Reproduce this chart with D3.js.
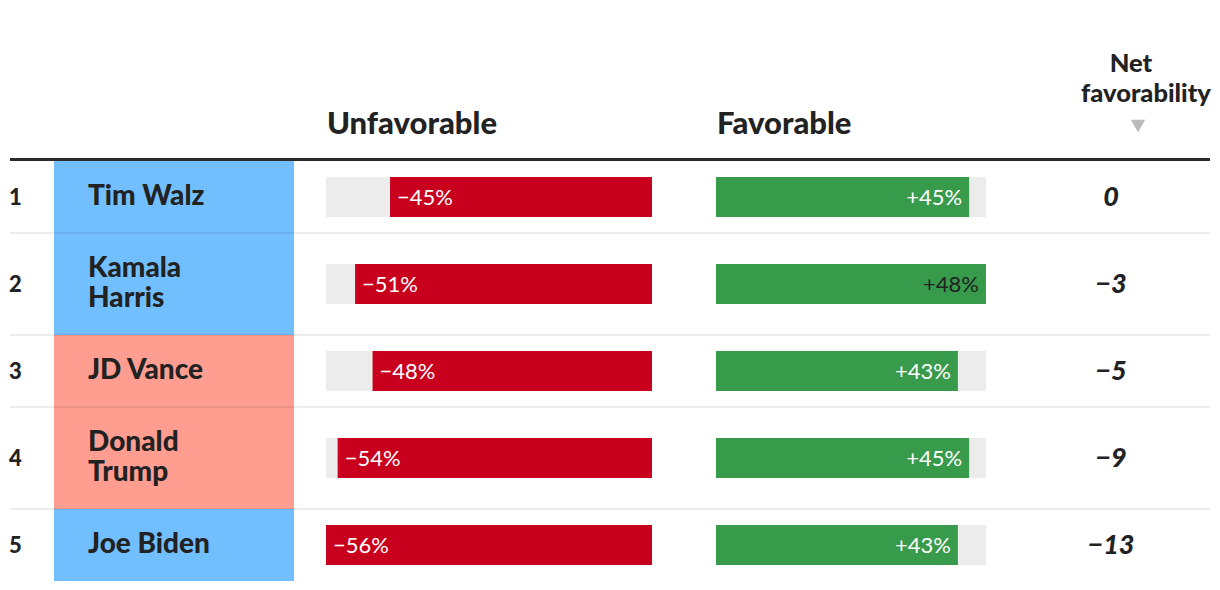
<!DOCTYPE html>
<html>
<head>
<meta charset="utf-8">
<script src="https://cdn.jsdelivr.net/npm/d3@7"></script>
<style>
  html, body { margin: 0; padding: 0; background: #fff; }
  svg { display: block; font-family: Lato, "Noto Sans", sans-serif; }
</style>
</head>
<body>
<svg id="chart" width="1220" height="590"></svg>
<script>
// ---- data ----
const ranks = [1, 2, 3, 4, 5];
const names = ["Tim Walz", "Kamala Harris", "JD Vance", "Donald Trump", "Joe Biden"];
const parties = ["D", "D", "R", "R", "D"];
const unfavorable = [45, 51, 48, 54, 56];
const favorable = [45, 48, 43, 45, 43];
const netFavorability = [0, -3, -5, -9, -13];
const headers = ["Unfavorable", "Favorable"];
const netHeader = ["Net", "favorability"];

const rows = ranks.map((r, i) => ({
  rank: r, name: names[i], party: parties[i],
  unf: unfavorable[i], fav: favorable[i], net: netFavorability[i]
}));

// ---- layout ----
const svg = d3.select("#chart");
const left = 10, right = 1210;
const tableTop = 161;
const baseRowH = 72, lineStep = 30;
const nameX0 = 54, nameX1 = 294, nameTextX = 88, nameMaxW = 150;
const unfX0 = 326, unfX1 = 652;
const favX0 = 716, favX1 = 986;
const netX = 1111;
const barH = 40;

const partyColor = d3.scaleOrdinal().domain(["D", "R"]).range(["#72bfff", "#ff9d90"]);
const xUnf = d3.scaleLinear().domain([0, d3.max(unfavorable)]).range([0, unfX1 - unfX0]);
const xFav = d3.scaleLinear().domain([0, d3.max(favorable)]).range([0, favX1 - favX0]);
const fmtPct = d3.format("+d");
const fmtNet = d3.format("d");

// headers
svg.selectAll("text.hdr").data(headers).join("text")
  .attr("class", "hdr")
  .attr("x", (d, i) => i === 0 ? unfX0 + 1 : favX0 + 1)
  .attr("y", 134)
  .attr("font-size", 31).attr("font-weight", 900).attr("fill", "#222")
  .text(d => d);

svg.selectAll("text.nethdr").data(netHeader).join("text")
  .attr("class", "nethdr")
  .attr("x", (d, i) => i === 0 ? 1131 : 1146)
  .attr("y", (d, i) => 72 + i * 30)
  .attr("text-anchor", "middle")
  .attr("font-size", 25.5).attr("font-weight", 900).attr("fill", "#222")
  .text(d => d);

svg.append("path")
  .attr("d", d3.symbol().type(d3.symbolTriangle).size(90)())
  .attr("transform", "translate(1138,124) rotate(180)")
  .attr("fill", "#bbb");

// measure names & wrap
const g = svg.append("g");
const rowG = g.selectAll("g.row").data(rows).join("g").attr("class", "row");

const nameText = rowG.append("text")
  .attr("font-size", 28).attr("font-weight", 900).attr("fill", "#222")
  .attr("x", nameTextX);

nameText.each(function(d) {
  const t = d3.select(this);
  const words = d.name.split(" ");
  const lines = [];
  let cur = [];
  const probe = t.append("tspan");
  words.forEach(w => {
    const test = cur.concat([w]).join(" ");
    probe.text(test);
    if (probe.node().getComputedTextLength() > nameMaxW && cur.length) {
      lines.push(cur.join(" "));
      cur = [w];
    } else cur.push(w);
  });
  lines.push(cur.join(" "));
  probe.remove();
  d.lines = lines;
  d.h = baseRowH + lineStep * (lines.length - 1);
});

let acc = tableTop;
rows.forEach(d => { d.y0 = acc; acc += d.h; });

rowG.attr("transform", d => `translate(0,${d.y0})`);

// name cells (behind)
rowG.insert("rect", "text")
  .attr("x", nameX0).attr("y", 0)
  .attr("width", nameX1 - nameX0).attr("height", d => d.h)
  .attr("fill", d => partyColor(d.party));

nameText.each(function(d) {
  const t = d3.select(this);
  const n = d.lines.length;
  t.selectAll("tspan").data(d.lines).join("tspan")
    .attr("x", nameTextX)
    .attr("y", (l, i) => d.h / 2 - 1.5 + (i - (n - 1) / 2) * lineStep)
    .attr("dy", "0.35em")
    .text(l => l);
});

// rank
rowG.append("text")
  .attr("x", 9).attr("y", d => d.h / 2).attr("dy", "0.36em")
  .attr("font-size", 22).attr("font-weight", 900).attr("fill", "#222")
  .text(d => d.rank);

// unfavorable
rowG.append("rect")
  .attr("x", unfX0).attr("y", d => d.h / 2 - barH / 2)
  .attr("width", unfX1 - unfX0).attr("height", barH).attr("fill", "#ececec");
rowG.append("rect")
  .attr("x", d => unfX1 - xUnf(d.unf)).attr("y", d => d.h / 2 - barH / 2)
  .attr("width", d => xUnf(d.unf)).attr("height", barH).attr("fill", "#c8001e");
rowG.append("text")
  .attr("x", d => unfX1 - xUnf(d.unf) + 7).attr("y", d => d.h / 2).attr("dy", "0.36em")
  .attr("font-size", 22).attr("fill", "#fff")
  .text(d => fmtPct(-d.unf).replace("-", "\u2212") + "%");

// favorable
rowG.append("rect")
  .attr("x", favX0).attr("y", d => d.h / 2 - barH / 2)
  .attr("width", favX1 - favX0).attr("height", barH).attr("fill", "#ececec");
rowG.append("rect")
  .attr("x", favX0).attr("y", d => d.h / 2 - barH / 2)
  .attr("width", d => xFav(d.fav)).attr("height", barH).attr("fill", "#389a4b");
const favMax = d3.max(favorable);
rowG.append("text")
  .attr("x", d => favX0 + xFav(d.fav) - 7).attr("y", d => d.h / 2).attr("dy", "0.36em")
  .attr("text-anchor", "end")
  .attr("font-size", 22)
  .attr("fill", d => d.fav === favMax ? "#222" : "#fff")
  .text(d => fmtPct(d.fav) + "%");

// net
rowG.append("text")
  .attr("x", netX).attr("y", d => d.h / 2 - 1).attr("dy", "0.36em")
  .attr("text-anchor", "middle")
  .attr("font-size", 27).attr("font-weight", 900).attr("font-style", "italic")
  .attr("fill", "#222")
  .text(d => fmtNet(d.net));

// separators
svg.selectAll("line.sep").data(rows.slice(0, -1)).join("line")
  .attr("class", "sep")
  .attr("x1", left).attr("x2", right)
  .attr("y1", d => d.y0 + d.h).attr("y2", d => d.y0 + d.h)
  .attr("stroke", "rgba(0,0,0,0.075)").attr("stroke-width", 2);

// header rule
svg.append("line")
  .attr("x1", left).attr("x2", right)
  .attr("y1", 159.5).attr("y2", 159.5)
  .attr("stroke", "#2a2a2a").attr("stroke-width", 3);
</script>
</body>
</html>
